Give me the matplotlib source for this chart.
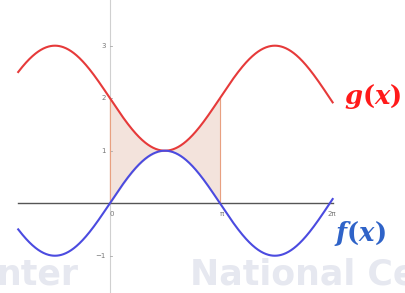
import numpy as np
import matplotlib
matplotlib.use("Agg")
import matplotlib.pyplot as plt

plt.rcParams["mathtext.fontset"] = "dejavuserif"

# curve definitions and plotted range
x_start, x_end = -2.62, 2 * np.pi + 0.08
shade_from, shade_to = 0.0, np.pi
y_ticks = [3, 2, 1, -1]
y_tick_labels = ["3", "2", "1", "\u22121"]
x_ticks = [0, np.pi, 2 * np.pi]
x_tick_labels = ["0", "\u03c0", "2\u03c0"]


def f(x):
    return np.sin(x)


def g(x):
    return 2 - np.sin(x)


fig = plt.figure(figsize=(4.05, 2.93), dpi=100)
ax = fig.add_axes([0, 0, 1, 1])
ax.set_xlim(-3.14, 8.43)
ax.set_ylim(-1.71, 3.87)
ax.axis("off")

# faint watermark
ax.text(0.47, 0.03, "National Cen", transform=ax.transAxes, fontsize=25,
        color="#e6e8f0", fontweight="bold", zorder=0)
ax.text(-0.01, 0.03, "nter", transform=ax.transAxes, fontsize=25,
        color="#e6e8f0", fontweight="bold", zorder=0)

# axes lines
ax.axvline(0, color="#d0d0d0", lw=0.8, zorder=1)
ax.plot([x_start, x_end], [0, 0], color="#555555", lw=1.0, zorder=2)

for yt, lab in zip(y_ticks, y_tick_labels):
    ax.plot([0, 0.06], [yt, yt], color="#aaaaaa", lw=0.6)
    ax.text(-0.12, yt, lab, ha="right", va="center", fontsize=5, color="#777777")
for xt, lab in zip(x_ticks, x_tick_labels):
    ax.text(xt + 0.05, -0.2, lab, ha="center", va="center", fontsize=5, color="#777777")

# shaded region between the curves
xs = np.linspace(shade_from, shade_to, 200)
ax.fill_between(xs, f(xs), g(xs), color="#f3e3dc", zorder=1.5)
ax.plot([shade_from, shade_from], [f(shade_from), g(shade_from)], color="#e8a080", lw=0.8)
ax.plot([shade_to, shade_to], [f(shade_to), g(shade_to)], color="#e8a080", lw=0.8)

xx = np.linspace(x_start, x_end, 600)
ax.plot(xx, g(xx), color="#e63a3a", lw=1.5, zorder=3)
ax.plot(xx, f(xx), color="#4b4be0", lw=1.5, zorder=3)

ax.text(6.68, 2.03, r"$\boldsymbol{g(x)}$", color="#ff1a1a", fontsize=18.5,
        ha="left", va="center")
ax.text(6.4, -0.57, r"$\boldsymbol{f(x)}$", color="#2f63c8", fontsize=18.5,
        ha="left", va="center")

fig.savefig("out.png", dpi=100)
